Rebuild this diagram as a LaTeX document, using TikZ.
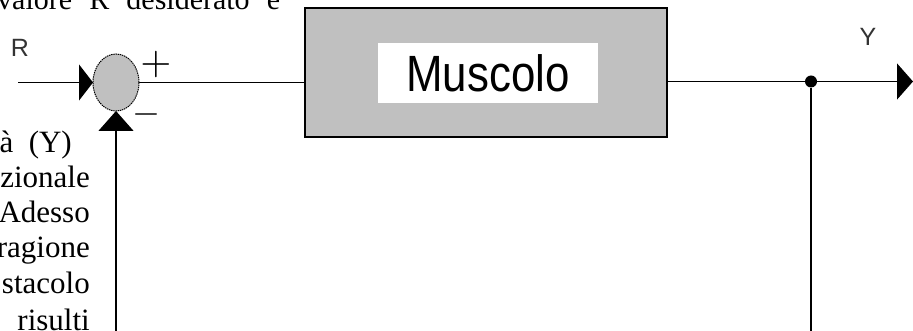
\documentclass[tikz,border=0pt]{standalone}
\usepackage{fontspec}
\setmainfont{Liberation Serif}
\newfontfamily\arialf{Liberation Sans}
\usetikzlibrary{arrows.meta,shapes.geometric}
\definecolor{blockgray}{HTML}{C0C0C0}
\begin{document}
\begin{tikzpicture}[x=1pt,y=-1pt,
  wire/.style={line width=1.3pt,draw=black},
  bodytext/.style={font=\fontsize{31}{31}\selectfont, inner sep=0pt, anchor=base east},
  lbl/.style={font=\arialf\fontsize{25}{25}\selectfont, text=black!80, inner sep=0pt},
  signlbl/.style={inner sep=0pt, text=black},
  sumnode/.style={ellipse, minimum width=46pt, minimum height=57pt, inner sep=0pt, outer sep=0pt,
     fill=blockgray, draw=black, line width=1pt, dash pattern=on 1.4pt off 0.8pt},
  blockbox/.style={rectangle, minimum width=362pt, minimum height=129pt, inner sep=0pt, outer sep=0pt,
     fill=blockgray, draw=black, line width=1.3pt},
  innerbox/.style={rectangle, minimum width=220pt, minimum height=60pt, inner sep=0pt,
     fill=white, font=\arialf},
  dotnode/.style={circle, minimum size=12pt, inner sep=0pt, fill=black},
]
\useasboundingbox (0,0) rectangle (913,331);
\clip (0,0) rectangle (913,331);

% surrounding text fragments
\node[font=\fontsize{30}{30}\selectfont, inner sep=0pt, anchor=base west] (toptext) at (-3,10)
  {\makebox[283pt][s]{valore R desiderato e}};
\node[bodytext] (t1) at (72,153) {à\ \ (Y)};
\node[bodytext] (t2) at (90,188) {zionale};
\node[bodytext] (t3) at (90,223) {Adesso};
\node[bodytext] (t4) at (90,258) {ragione};
\node[bodytext] (t5) at (90,293) {stacolo};
\node[bodytext] (t6) at (90,330) {risulti};

% diagram
\node[sumnode] (sum) at (116,82.5) {};
\node[blockbox] (mus) at (486,72.5) {};
\node[innerbox] (lab) at (488,73) {\scalebox{0.86}[1.0]{\fontsize{51}{51}\selectfont Muscolo}};
\node[dotnode] (dot) at (811,81.5) {};

\node[lbl] (rlab) at (20,48) {R};
\node[lbl] (ylab) at (868,37) {Y};
\node[signlbl] (plus) at (156,65) {\scalebox{4}{$+$}};
\node[signlbl] (minus) at (146,115) {\scalebox{3.6}{$-$}};

\coordinate (in) at (18,82.5);
\coordinate (out) at (913,81.5);
\coordinate (fbR) at (811,335);
\coordinate (fbL) at (116,335);

\draw[wire,-{Triangle[length=14pt,width=36pt]}] (in) -- (sum.west);
\draw[wire] (sum.east) -- (mus.west |- sum.east);
\draw[wire,-{Triangle[length=16pt,width=36pt]}] (mus.east |- dot) -- (out);
\draw[wire] (dot) -- (fbR);
\draw[wire,-{Triangle[length=20pt,width=35pt]}] (fbL) -- (sum.south);
\end{tikzpicture}
\end{document}
